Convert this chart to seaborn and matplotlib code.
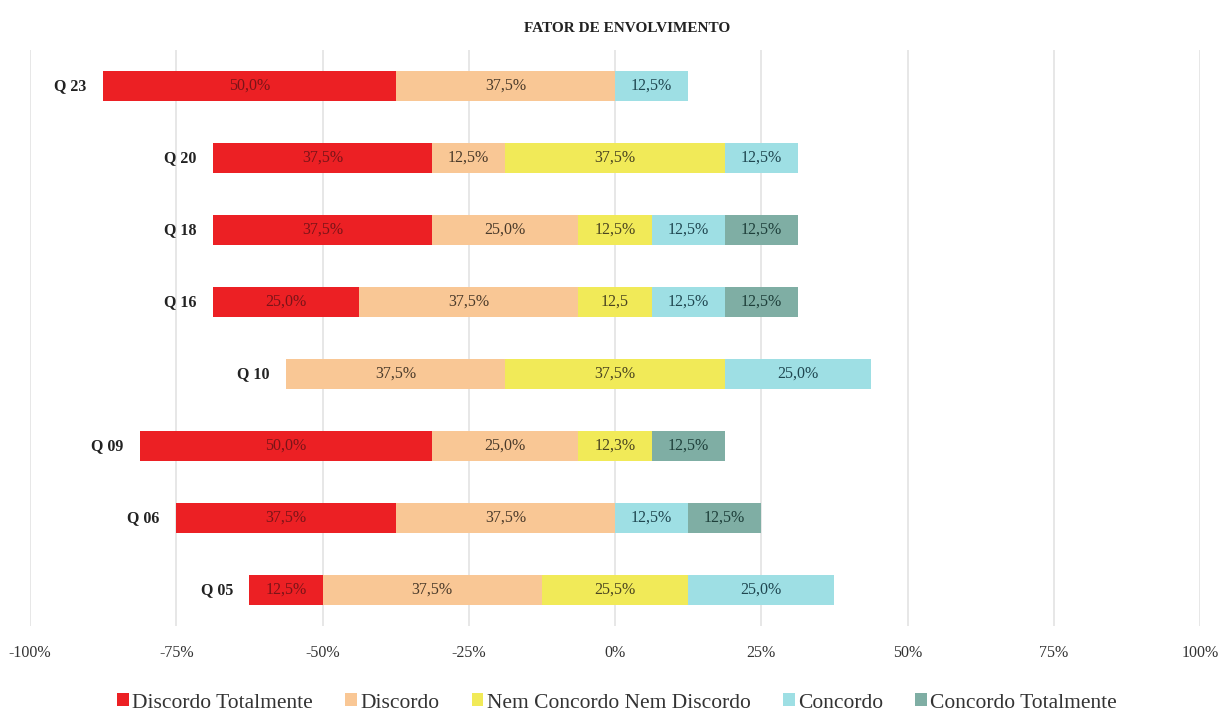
import matplotlib
matplotlib.use("Agg")
import matplotlib.pyplot as plt
import seaborn as sns
import pandas as pd
import numpy as np
from matplotlib.patches import Patch

# ---------------- data ----------------
questions = ["Q 23", "Q 20", "Q 18", "Q 16", "Q 10", "Q 09", "Q 06", "Q 05"]
categories = ["Discordo Totalmente", "Discordo", "Nem Concordo Nem Discordo",
              "Concordo", "Concordo Totalmente"]
discordo_tot = [50.0, 37.5, 37.5, 25.0, 0.0, 50.0, 37.5, 12.5]
discordo     = [37.5, 12.5, 25.0, 37.5, 37.5, 25.0, 37.5, 37.5]
neutro       = [0.0, 37.5, 12.5, 12.5, 37.5, 12.5, 0.0, 25.0]
concordo     = [12.5, 12.5, 12.5, 12.5, 25.0, 0.0, 12.5, 25.0]
concordo_tot = [0.0, 0.0, 12.5, 12.5, 0.0, 12.5, 12.5, 0.0]

labels_dt = ["50,0%", "37,5%", "37,5%", "25,0%", "", "50,0%", "37,5%", "12,5%"]
labels_d  = ["37,5%", "12,5%", "25,0%", "37,5%", "37,5%", "25,0%", "37,5%", "37,5%"]
labels_n  = ["", "37,5%", "12,5%", "12,5", "37,5%", "12,3%", "", "25,5%"]
labels_c  = ["12,5%", "12,5%", "12,5%", "12,5%", "25,0%", "", "12,5%", "25,0%"]
labels_ct = ["", "", "12,5%", "12,5%", "", "12,5%", "12,5%", ""]

tick_vals = [-100, -75, -50, -25, 0, 25, 50, 75, 100]
tick_labels = ["-100%", "-75%", "-50%", "-25%", "0%", "25%", "50%", "75%", "100%"]

colors = ["#EC2024", "#F9C795", "#F1EA58", "#9EDFE4", "#7FAEA4"]

# ---------------- style ----------------
sns.set_theme(style="white")
plt.rcParams["font.family"] = ["Liberation Serif", "DejaVu Serif"]

fig = plt.figure(figsize=(12.23, 7.11), dpi=100)
ax = fig.add_axes([30/1223, 1 - 626/711, (1200 - 30)/1223, (626 - 50)/711])

dt = np.array(discordo_tot)
d = np.array(discordo)
n = np.array(neutro)
c = np.array(concordo)
ct = np.array(concordo_tot)

# segment boundaries (diverging, neutral centred at 0)
left_edge = -(dt + d + n / 2)
b1 = left_edge + dt
b2 = b1 + d
b3 = b2 + n
b4 = b3 + c
b5 = b4 + ct

# draw with overlapping bars from 0 (drawn from longest to shortest per side)
bw = 0.42
draw_layers = [
    (left_edge, colors[0]),   # negative side: DT outermost
    (b1, colors[1]),          # D up to start of neutral
    (-n / 2, colors[2]),      # neutral left half
    (b5, colors[4]),          # positive side: CT outermost
    (b4, colors[3]),          # C
    (n / 2, colors[2]),       # neutral right half
]
for vals, col in draw_layers:
    df = pd.DataFrame({"q": questions, "v": vals})
    sns.barplot(data=df, x="v", y="q", orient="h", color=col, width=bw,
                saturation=1, ax=ax, linewidth=0, order=questions)

ax.set_xlim(-100, 100)
ax.set_ylim(len(questions) - 0.5, -0.5)
ax.set_xticks(tick_vals)
ax.set_xticklabels(tick_labels, fontsize=11.5, color="#333333")
ax.tick_params(axis="x", length=0, pad=14)
ax.set_yticks([])
ax.set_xlabel("")
ax.set_ylabel("")
for s in ax.spines.values():
    s.set_visible(False)
ax.grid(axis="x", color="#E3E3E3", linewidth=1.2)
ax.set_axisbelow(True)

# segment labels
seg_starts = [left_edge, b1, b2, b3, b4]
seg_widths = [dt, d, n, c, ct]
seg_labels = [labels_dt, labels_d, labels_n, labels_c, labels_ct]
txt_colors = ["#7A1418", "#4A3A2A", "#4A4420", "#1F4650", "#1E3F3A"]
for k in range(5):
    for i in range(len(questions)):
        lab = seg_labels[k][i]
        if lab and seg_widths[k][i] > 0:
            ax.text(seg_starts[k][i] + seg_widths[k][i] / 2, i, lab,
                    ha="center", va="center", fontsize=11.5, color=txt_colors[k])

# question labels at bar start
for i, q in enumerate(questions):
    ax.text(left_edge[i] - 2.8, i, q, ha="right", va="center",
            fontsize=11.5, fontweight="bold", color="#222222")

fig.text(627/1223, 1 - 28/711, "FATOR DE ENVOLVIMENTO", ha="center", va="center",
         fontsize=11, fontweight="bold", color="#222222")

handles = [Patch(facecolor=col, edgecolor="none") for col in colors]
fig.legend(handles, categories, loc="center", bbox_to_anchor=(617/1223, 1 - 703/711),
           ncol=5, frameon=False, fontsize=15.5, handlelength=0.55, handleheight=0.55,
           handletextpad=0.15, columnspacing=1.5, labelcolor="#333333")

fig.savefig("out.png", dpi=100, facecolor="white")
